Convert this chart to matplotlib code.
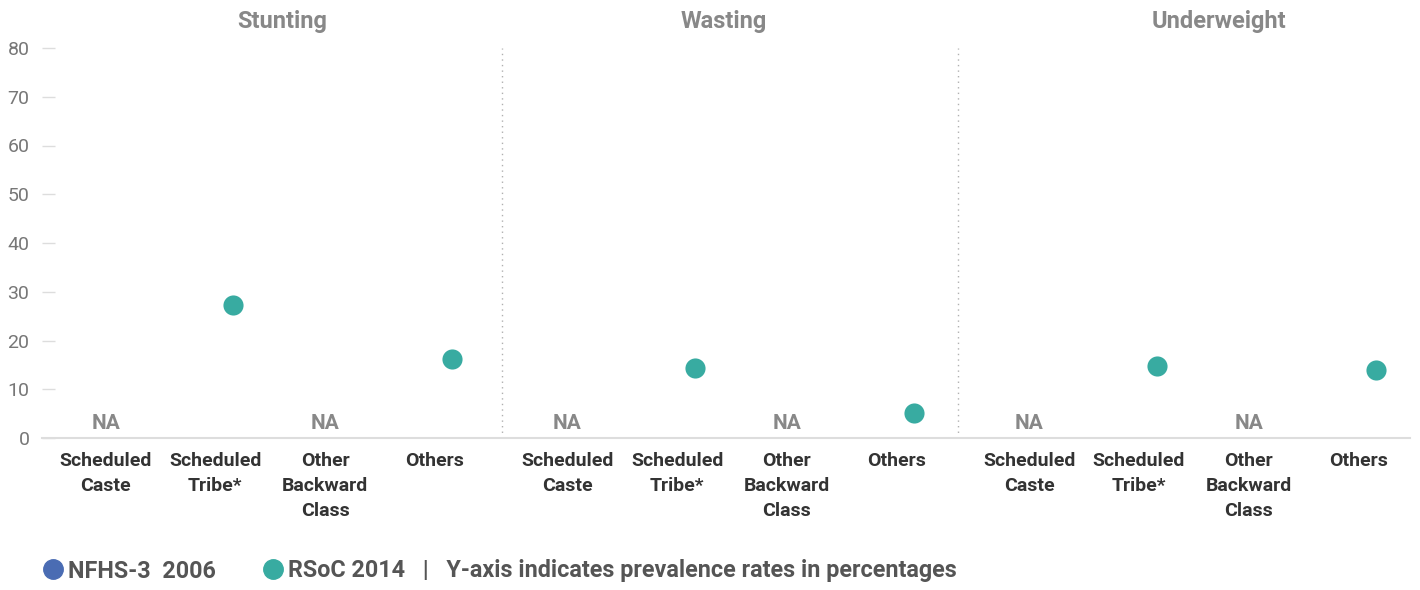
import numpy as np
import matplotlib
matplotlib.use('Agg')
from matplotlib import pyplot as plt
from matplotlib.lines import Line2D

panels = ['Stunting', 'Wasting', 'Underweight']
categories = ['Scheduled\nCaste', 'Scheduled\nTribe*', 'Other\nBackward\nClass', 'Others']
# NFHS-3 2006 has no values for this state -> nothing plotted
nfhs3_2006 = {
    'Stunting': [np.nan, np.nan, np.nan, np.nan],
    'Wasting': [np.nan, np.nan, np.nan, np.nan],
    'Underweight': [np.nan, np.nan, np.nan, np.nan],
}
rsoc_2014 = {
    'Stunting': [np.nan, 27.2, np.nan, 16.2],
    'Wasting': [np.nan, 14.4, np.nan, 5.1],
    'Underweight': [np.nan, 14.8, np.nan, 13.9],
}
na_labels = ['NA', None, 'NA', None]
yticks = [0, 10, 20, 30, 40, 50, 60, 70, 80]

blue = '#4a6cb3'
teal = '#38aba1'
plt.rcParams['font.family'] = ['Roboto', 'DejaVu Sans']

fig = plt.figure(figsize=(14.2, 5.9), dpi=100)
ax = fig.add_axes([42 / 1420, 1 - 438 / 590, (1410 - 42) / 1420, 390 / 590])

gap = 4.21
dodge = 0.16
title_shift = [0.11, -0.08, 0.23]
divider_x = [3.61, 7.77]
xs_all, labels_all = [], []
for p, name in enumerate(panels):
    xs = np.arange(len(categories)) + p * gap
    ax.scatter(xs - dodge, nfhs3_2006[name], s=210, color=blue, zorder=3, linewidths=0)
    ax.scatter(xs + dodge, rsoc_2014[name], s=210, color=teal, zorder=3, linewidths=0)
    for x, na in zip(xs, na_labels):
        if na:
            ax.text(x, 3.0, na, ha='center', va='center', fontsize=15,
                    fontweight='bold', color='#888888')
    ax.text(xs.mean() + title_shift[p], 85.5, name, ha='center', va='center', fontsize=17,
            fontweight='bold', color='#888888', clip_on=False)
    xs_all += list(xs)
    labels_all += categories

for d in divider_x:
    ax.axvline(d, color='#b0b0b0', lw=1, ls=(0, (1, 3)))

ax.set_xlim(-0.58, 11.89)
ax.set_ylim(0, 80)
ax.set_yticks(yticks)
ax.set_xticks(xs_all)
ax.set_xticklabels(labels_all, fontsize=14, fontweight='bold', color='#333333',
                   linespacing=1.52, va='top')
ax.tick_params(axis='x', length=0, pad=10)
ax.tick_params(axis='y', direction='in', length=9.5, width=1, color='#dddddd',
               labelsize=14, labelcolor='#777777', pad=9)
for s in ['left', 'top', 'right']:
    ax.spines[s].set_visible(False)
ax.spines['bottom'].set_color('#dddddd')
ax.spines['bottom'].set_linewidth(1.5)

handles = [Line2D([], [], ls='', marker='o', ms=14, color=blue),
           Line2D([], [], ls='', marker='o', ms=14, color=teal)]
leg = fig.legend(handles, ['NFHS-3  2006', 'RSoC 2014   |   Y-axis indicates prevalence rates in percentages'],
                 loc='center left', bbox_to_anchor=(18 / 1420, 1 - 571 / 590), ncol=2,
                 frameon=False, handletextpad=0.05, columnspacing=1.85, handlelength=1.2,
                 prop={'weight': 'bold', 'size': 16.8})
for t in leg.get_texts():
    t.set_color('#555555')

fig.savefig('out.png', dpi=100)
